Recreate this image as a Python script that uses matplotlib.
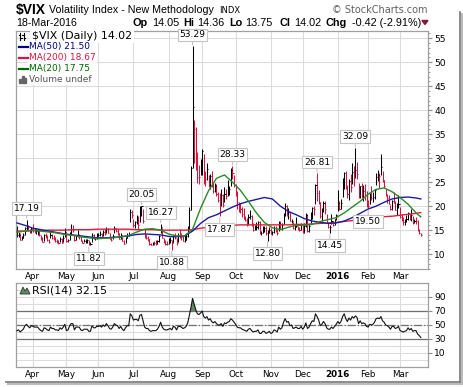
import numpy as np
import pandas as pd
import matplotlib
matplotlib.use("Agg")
import matplotlib.pyplot as plt
from matplotlib.lines import Line2D
from matplotlib.patches import Rectangle, Polygon

W, H = 464, 387

# trading days, 18-Mar-2015 .. 18-Mar-2016
holidays = ["2015-04-03", "2015-05-25", "2015-07-03", "2015-09-07", "2015-11-26",
            "2015-12-25", "2016-01-01", "2016-01-18", "2016-02-15"]
dates = pd.bdate_range("2015-03-18", "2016-03-18", freq="C", holidays=holidays)

closes = [
    13.97, 14.07, 13.02, 13.41, 14.02, 15.44, 15.80, 15.07, 14.51, 15.29,
    15.11, 14.67, 14.74, 14.78, 13.98, 13.09, 12.58, 13.94, 13.67, 12.84, 12.60, 13.89, 13.30, 13.25, 12.71, 12.48, 12.29, 13.12, 12.41, 13.39, 14.55,
    12.70, 12.85, 14.31, 15.15, 15.13, 12.86, 13.85, 13.86, 13.76, 12.74, 12.38, 12.73, 12.85, 12.88, 12.11, 12.13, 14.06, 13.27, 13.31, 13.84,
    13.97, 14.24, 13.66, 14.71, 14.21, 15.29, 14.47, 13.22, 12.85, 13.78, 15.39, 14.81, 14.50, 13.19, 13.96, 12.74, 12.11, 13.26, 14.01, 14.02, 18.85, 18.23,
    16.09, 16.79, 17.01, 16.09, 19.66, 19.97, 16.83, 13.90, 13.37, 13.23, 12.11, 11.95, 12.25, 12.22, 12.12, 12.64, 13.74, 15.60, 13.44, 12.50, 12.13, 12.12,
    12.56, 13.00, 12.51, 13.77, 13.39, 12.23, 13.71, 13.61, 13.49, 12.83, 13.02, 13.79, 15.25, 19.14, 28.03, 40.74, 36.02, 30.32, 26.10, 26.05, 28.43,
    31.40, 26.09, 25.61, 27.80, 24.90, 26.23, 24.37, 23.20, 24.25, 22.54, 21.35, 21.14, 22.28, 20.14, 22.44, 22.13, 23.47, 23.62, 27.63, 26.83, 24.50,
    22.55, 20.94, 19.54, 19.40, 18.40, 17.42, 17.08, 16.17, 17.67, 18.03, 16.05, 15.05, 15.75, 15.75, 16.70, 14.45, 14.46, 15.29, 15.43, 14.33, 14.61, 15.07,
    14.15, 14.54, 15.51, 15.05, 14.33, 16.52, 15.29, 16.06, 18.37, 20.08, 18.16, 18.84, 16.85, 16.99, 15.47, 15.62, 15.93, 15.19, 15.12, 16.13,
    14.67, 15.91, 18.11, 14.81, 15.84, 17.60, 19.61, 19.34, 24.39, 22.73, 20.95, 17.86, 18.94, 20.70, 19.34, 16.60, 15.57, 15.74, 16.91, 16.08, 17.29, 18.21,
    20.70, 19.34, 20.59, 24.99, 27.01, 24.30, 22.47, 25.22, 23.95, 27.02, 26.05, 27.59, 26.69, 22.34, 24.15, 22.50, 23.11, 22.42, 20.20,
    19.98, 21.98, 21.65, 21.84, 23.38, 26.00, 26.54, 26.29, 28.14, 25.40, 24.11, 22.31, 21.64, 20.53, 19.38, 20.98, 20.72, 19.11, 19.81, 20.55,
    17.70, 17.09, 16.70, 16.86, 17.35, 18.67, 17.50, 18.05, 16.50, 16.92, 16.84, 14.99, 14.44, 14.02,
]
highs = [
    15.9, 14.6, 14.3, 13.8, 14.3, 15.7, 17.19, 16.0, 15.3, 15.6,
    16.2, 15.4, 15.4, 15.3, 14.9, 14.0, 13.6, 14.2, 14.5, 13.9, 13.2, 14.6, 14.2, 13.9, 13.5, 13.1, 12.9, 13.5, 13.4, 13.9, 15.4,
    14.3, 13.2, 14.6, 16.3, 16.0, 14.0, 14.0, 15.1, 14.2, 13.8, 13.0, 13.1, 13.1, 13.2, 12.9, 12.5, 14.4, 14.1, 13.6, 14.3,
    14.5, 14.8, 14.3, 15.1, 15.2, 15.6, 15.4, 14.4, 13.6, 14.2, 15.9, 15.5, 15.3, 14.5, 14.3, 13.5, 12.9, 13.5, 14.5, 14.6, 19.5, 19.2,
    17.3, 17.0, 18.2, 18.0, 20.0, 20.05, 19.4, 15.3, 14.0, 13.8, 13.1, 12.4, 12.6, 12.8, 13.0, 13.0, 13.9, 16.27, 15.5, 13.4, 12.9, 12.7,
    13.3, 13.6, 13.0, 14.0, 14.3, 13.3, 14.5, 15.3, 14.4, 13.7, 14.0, 14.3, 15.8, 19.8, 28.38, 53.29, 38.0, 36.5, 31.3, 28.6, 29.8,
    31.9, 30.9, 27.3, 29.0, 26.5, 26.8, 27.3, 25.0, 24.8, 24.7, 23.0, 22.8, 23.6, 22.6, 23.9, 23.5, 25.4, 24.2, 28.0, 28.33, 26.4,
    24.6, 23.1, 20.9, 20.6, 19.9, 19.6, 17.9, 17.6, 18.3, 19.2, 18.1, 16.4, 16.0, 16.6, 16.9, 16.9, 14.9, 15.9, 15.9, 15.8, 15.0, 15.6,
    15.5, 14.9, 15.9, 15.9, 15.2, 16.8, 17.0, 16.4, 18.6, 20.7, 20.2, 19.7, 18.8, 17.4, 16.7, 16.3, 17.8, 15.9, 15.6, 16.4,
    16.0, 16.4, 18.6, 18.4, 16.3, 18.8, 19.9, 20.0, 24.6, 26.81, 23.3, 20.8, 19.6, 21.1, 21.0, 18.3, 16.5, 16.0, 18.3, 16.8, 17.4, 18.4,
    23.4, 21.1, 21.4, 25.9, 27.1, 27.4, 24.5, 25.7, 26.7, 29.0, 28.4, 32.09, 29.3, 24.9, 24.3, 24.8, 24.4, 24.7, 23.2,
    21.3, 22.8, 24.3, 23.0, 23.5, 27.0, 27.6, 26.9, 30.9, 27.3, 25.5, 23.6, 22.5, 22.3, 20.3, 21.3, 22.9, 21.0, 20.6, 22.3,
    19.8, 18.4, 17.7, 17.3, 18.1, 18.8, 18.3, 19.4, 17.9, 17.4, 17.8, 17.1, 15.2, 14.36,
]
lows = [
    13.6, 13.5, 12.9, 12.9, 13.3, 13.9, 15.0, 14.9, 14.3, 14.3,
    14.6, 14.4, 14.2, 14.0, 13.8, 12.9, 12.5, 12.8, 13.3, 12.7, 12.4, 13.3, 13.2, 12.9, 12.6, 12.3, 12.2, 12.5, 12.4, 12.6, 13.5,
    12.6, 12.5, 13.0, 13.9, 14.6, 12.8, 13.0, 13.5, 13.2, 12.7, 12.3, 12.5, 12.3, 12.4, 11.82, 12.0, 12.5, 13.1, 13.0, 13.1,
    13.7, 13.8, 13.5, 13.7, 14.0, 14.3, 14.3, 13.2, 12.8, 13.2, 14.3, 14.6, 14.0, 13.1, 13.2, 12.7, 12.1, 12.4, 13.4, 13.7, 16.6, 17.5,
    15.6, 15.5, 16.2, 15.2, 16.6, 17.9, 16.5, 13.4, 13.2, 12.7, 12.0, 11.8, 11.9, 11.8, 11.9, 12.1, 12.5, 14.5, 13.3, 12.4, 12.0, 11.9,
    12.1, 12.4, 10.88, 12.3, 13.2, 12.0, 12.6, 13.4, 12.9, 12.8, 12.5, 13.0, 13.5, 15.2, 19.2, 28.0, 29.0, 27.6, 24.8, 24.6, 26.5,
    26.5, 24.6, 24.2, 25.4, 23.9, 23.5, 23.9, 22.8, 22.9, 22.1, 20.9, 17.87, 20.0, 19.8, 20.8, 21.5, 22.2, 22.3, 24.1, 25.6, 23.9,
    22.1, 19.5, 18.8, 18.6, 17.7, 17.3, 16.8, 15.9, 16.3, 17.4, 15.9, 14.9, 15.0, 15.1, 15.2, 14.1, 13.9, 14.3, 14.7, 13.9, 12.80, 14.4,
    14.1, 13.9, 14.4, 14.7, 14.0, 14.9, 15.2, 15.1, 16.2, 18.0, 17.9, 17.3, 16.8, 16.4, 15.3, 15.1, 15.6, 15.0, 14.8, 15.1,
    14.5, 14.4, 15.6, 14.6, 14.6, 16.4, 17.3, 18.1, 20.4, 21.0, 20.4, 17.5, 17.0, 18.8, 18.3, 16.4, 15.5, 14.45, 16.2, 15.9, 16.0, 17.1,
    18.9, 19.1, 19.5, 22.0, 23.5, 23.6, 21.6, 21.3, 22.9, 24.7, 24.2, 25.8, 25.6, 21.7, 21.8, 21.7, 21.0, 21.3, 19.9,
    19.50, 20.4, 21.3, 20.9, 21.5, 24.5, 25.2, 23.8, 26.5, 25.0, 23.8, 22.1, 20.6, 20.4, 19.1, 19.2, 20.7, 19.1, 18.2, 19.7,
    17.5, 16.9, 16.0, 16.0, 16.7, 17.2, 17.1, 16.8, 16.3, 16.5, 16.2, 14.8, 14.1, 13.75,
]
rsi = [
    42, 43, 40, 42, 44, 49, 51, 48, 46, 49,
    48, 47, 47, 47, 44, 42, 41, 46, 45, 43, 42, 47, 45, 45, 43, 43, 42, 46, 44, 47, 51,
    42, 43, 49, 52, 52, 43, 47, 47, 47, 43, 42, 44, 44, 44, 41, 41, 49, 46, 46, 48,
    48, 49, 47, 50, 48, 52, 49, 45, 44, 47, 52, 50, 49, 45, 48, 44, 42, 46, 49, 49, 66, 63,
    57, 58, 58, 56, 64, 65, 56, 47, 45, 45, 42, 41, 42, 42, 42, 44, 48, 54, 47, 44, 43, 43,
    44, 45, 43, 48, 47, 43, 48, 48, 47, 45, 46, 48, 53, 64, 75, 88, 80, 72, 66, 65, 67,
    70, 62, 60, 62, 57, 59, 55, 53, 55, 52, 50, 50, 52, 48, 53, 52, 54, 55, 59, 57, 54,
    51, 47, 46, 46, 44, 43, 42, 41, 44, 45, 42, 40, 41, 41, 43, 38, 38, 41, 41, 38, 39, 41,
    38, 39, 43, 42, 40, 47, 44, 46, 54, 59, 54, 55, 49, 50, 45, 46, 47, 45, 45, 48,
    44, 47, 53, 45, 47, 52, 56, 55, 66, 62, 57, 49, 51, 55, 52, 46, 44, 44, 47, 45, 48, 51,
    55, 52, 55, 62, 66, 59, 55, 60, 57, 62, 60, 63, 61, 52, 56, 52, 53, 52, 48,
    47, 51, 50, 51, 54, 59, 60, 59, 62, 56, 54, 50, 49, 47, 44, 48, 48, 45, 46, 48,
    42, 41, 40, 41, 42, 46, 43, 45, 41, 42, 42, 37, 35, 32.15,
]

# moving averages, read every 5th trading day
ma_idx = list(range(0, 251, 5)) + [253]
ma50 = [16.5, 16.0, 15.4, 15.1, 14.8, 14.5, 14.2, 14.0, 13.8, 13.6, 13.4, 13.4, 13.5,
        13.6, 13.8, 14.1, 14.2, 14.1, 14.0, 13.7, 13.6, 13.8, 14.8, 16.4, 17.6, 18.2,
        19.0, 19.8, 20.5, 21.0, 21.4, 21.8, 21.5, 20.0, 18.9, 18.2, 17.4, 16.9, 16.6,
        16.4, 16.5, 16.9, 17.6, 18.5, 19.4, 20.0, 20.8, 21.5, 21.8, 21.9, 21.7, 21.5]
ma200 = [14.8, 14.8, 14.9, 14.9, 15.0, 15.0, 15.0, 15.1, 15.1, 15.1, 15.2, 15.2, 15.2,
         15.2, 15.2, 15.1, 15.1, 15.1, 15.0, 15.0, 15.0, 15.0, 15.1, 15.4, 15.6, 15.8,
         15.9, 16.0, 16.1, 16.1, 16.1, 16.1, 16.1, 16.1, 16.1, 16.2, 16.2, 16.3, 16.4,
         16.5, 16.6, 16.8, 17.0, 17.2, 17.4, 17.6, 17.8, 17.9, 18.1, 18.3, 18.5, 18.67]
ma20 = [14.6, 14.8, 15.0, 14.8, 14.6, 14.4, 14.1, 13.9, 13.6, 13.4, 13.2, 13.3, 13.4,
        13.6, 13.9, 14.6, 15.2, 15.3, 15.0, 14.2, 13.8, 13.8, 15.2, 19.5, 23.2, 25.8,
        26.5, 25.0, 23.3, 21.0, 18.6, 16.6, 15.5, 15.1, 15.6, 16.0, 16.0, 16.2, 16.8,
        17.2, 17.6, 18.6, 19.8, 21.0, 22.5, 23.5, 23.8, 23.0, 21.8, 20.4, 18.6, 17.75]

# days whose high / low carries a value box
peak_days = ["2015-03-26", "2015-07-09", "2015-07-27", "2015-08-24", "2015-09-29",
             "2015-12-14", "2016-01-20"]
trough_days = ["2015-05-21", "2015-08-05", "2015-09-17", "2015-10-29", "2015-12-24",
               "2016-02-01"]

closes = np.array(closes)
highs = np.array(highs)
lows = np.array(lows)
rsi = np.array(rsi, dtype=float)
n = len(dates)
assert len(closes) == n and len(highs) == n and len(lows) == n and len(rsi) == n
x = np.arange(n)


def fx(px):
    return px / W


def fy(py):
    return 1 - py / H


fig = plt.figure(figsize=(W / 100, H / 100), dpi=100)
ax = fig.add_axes([fx(16), fy(269), 412 / W, 238 / H])
ax2 = fig.add_axes([fx(16), fy(367), 412 / W, 84 / H])

grid_c = "#dcdcdc"
spine_c = "#a0a0a0"
red = "#d6143c"

month_idx = [i for i in range(1, n) if dates[i].month != dates[i - 1].month]
month_lab = ["2016" if dates[i].month == 1 else dates[i].strftime("%b") for i in month_idx]

for a in (ax, ax2):
    a.set_xlim(-0.6, 257.5)
    a.set_xticks(month_idx)
    a.set_xticklabels(month_lab)
    a.tick_params(axis="x", length=0, pad=2, labelsize=6.3)
    for t in a.get_xticklabels():
        if t.get_text() == "2016":
            t.set_fontweight("bold")
    a.yaxis.tick_right()
    a.tick_params(axis="y", length=3, pad=1.5, labelsize=6.6, color="#888888")
    a.grid(True, which="major", axis="x", color=grid_c, lw=0.8, zorder=0)
    a.set_axisbelow(True)
    for s in a.spines.values():
        s.set_color(spine_c)
        s.set_linewidth(0.9)

# ---- price panel
ax.set_ylim(6.9, 56.5)
ax.set_yticks(range(10, 56, 5))
ax.set_yticks(np.arange(7, 57, 1), minor=True)
ax.tick_params(axis="y", which="minor", length=1.5, color="#888888")
ax.grid(True, which="major", axis="y", color=grid_c, lw=0.8)

prev = np.r_[closes[0], closes[:-1]]
cols = np.where(closes < prev, red, "black")
ax.vlines(x, lows, highs, colors=cols, lw=0.75, zorder=2)
ax.hlines(closes, x, x + 0.7, colors=cols, lw=0.75, zorder=2)

ax.plot(ma_idx, ma200, color="#e01e3c", lw=1.0, zorder=3)
ax.plot(ma_idx, ma50, color="#1c1ca0", lw=1.0, zorder=3)
ax.plot(ma_idx, ma20, color="#2a8a2a", lw=1.0, zorder=3)

box = dict(boxstyle="square,pad=0.2", fc="white", ec="#c4c4c4", lw=0.8)
day_pos = {d.strftime("%Y-%m-%d"): i for i, d in enumerate(dates)}
for d in peak_days:
    i = day_pos[d]
    ax.annotate(f"{highs[i]:.2f}", xy=(i, highs[i]), xytext=(0, 5), textcoords="offset points",
                ha="center", va="bottom", fontsize=6.6, bbox=box, zorder=5,
                annotation_clip=False,
                arrowprops=dict(arrowstyle="-", color="#c4c4c4", lw=0.8, shrinkA=0, shrinkB=1))
for d in trough_days:
    i = day_pos[d]
    ax.annotate(f"{lows[i]:.2f}", xy=(i, lows[i]), xytext=(0, -6), textcoords="offset points",
                ha="center", va="top", fontsize=6.6, bbox=box, zorder=5,
                annotation_clip=False,
                arrowprops=dict(arrowstyle="-", color="#c4c4c4", lw=0.8, shrinkA=0, shrinkB=1))

# ---- RSI panel
ax2.set_ylim(-10, 110)
ax2.set_yticks([10, 30, 50, 70, 90])
ax2.set_yticks([0, 20, 40, 60, 80, 100], minor=True)
ax2.tick_params(axis="y", which="minor", length=0)
ax2.grid(True, which="both", axis="y", color=grid_c, lw=0.8)
ax2.axhline(70, color="#707070", lw=0.9, zorder=1)
ax2.axhline(30, color="#707070", lw=0.9, zorder=1)
ax2.axhline(50, color="#707070", lw=0.9, ls="-.", zorder=1)
ax2.fill_between(x, rsi, 70, where=rsi >= 70, interpolate=True, color="#5f8a62", lw=0, zorder=2)
ax2.fill_between(x, rsi, 30, where=rsi <= 30, interpolate=True, color="#5f8a62", lw=0, zorder=2)
ax2.plot(x, rsi, color="#111111", lw=0.8, zorder=3)

# ---- header
sans = "Liberation Sans"
fig.text(fx(16), fy(10), "$VIX", fontsize=10, fontweight="bold", family=sans, va="center")
fig.text(fx(49), fy(10), "Volatility Index - New Methodology", fontsize=7.7, family=sans, va="center")
fig.text(fx(219), fy(10.5), "INDX", fontsize=6, va="center")
fig.text(fx(428), fy(10), "\u00a9 StockCharts.com", fontsize=7, color="#606060", ha="right", va="center")
fig.text(fx(16), fy(23), "18-Mar-2016", fontsize=7.7, family=sans, va="center")
ohlc = [("Op", 133, True), ("14.05", 152, False), ("Hi", 183, True), ("14.36", 197, False),
        ("Lo", 229, True), ("13.75", 245, False), ("Cl", 280, True), ("14.02", 294, False),
        ("Chg", 326, True), ("-0.42 (-2.91%)", 352, False)]
for s, px, b in ohlc:
    fig.text(fx(px), fy(23), s, fontsize=7.8, family=sans, va="center",
             fontweight="bold" if b else "normal")
fig.add_artist(Polygon([(fx(422), fy(20.5)), (fx(428), fy(20.5)), (fx(425), fy(24.5))],
                       closed=True, color="#8b1538", transform=fig.transFigure))

# ---- legend rows inside price panel
wbox = dict(boxstyle="square,pad=0.15", fc="white", ec="none")
fig.text(fx(32), fy(36), "$VIX (Daily) 14.02", fontsize=7.9, va="center", bbox=wbox, zorder=6)
for xs in (20, 24):
    fig.add_artist(Line2D([fx(xs), fx(xs)], [fy(33), fy(40)], color="black", lw=0.8,
                          transform=fig.transFigure, zorder=7))
    fig.add_artist(Line2D([fx(xs - 1.5), fx(xs)], [fy(35), fy(35)], color="black", lw=0.8,
                          transform=fig.transFigure, zorder=7))
    fig.add_artist(Line2D([fx(xs), fx(xs + 1.5)], [fy(38), fy(38)], color="black", lw=0.8,
                          transform=fig.transFigure, zorder=7))
legend_rows = [("MA(50) 21.50", "#000080", 47), ("MA(200) 18.67", "#dc143c", 57.5),
               ("MA(20) 17.75", "#006400", 68.5)]
for s, c, py in legend_rows:
    fig.text(fx(29), fy(py), s, fontsize=6.5, color=c, va="center", bbox=wbox, zorder=6)
    fig.add_artist(Line2D([fx(19), fx(28)], [fy(py), fy(py)], color=c, lw=1.6,
                          transform=fig.transFigure, zorder=7))
fig.text(fx(29), fy(79), "Volume undef", fontsize=6.5, color="#555555", va="center", bbox=wbox, zorder=6)
for bx, bh in ((19.5, 4), (22, 7), (24.5, 5.5)):
    fig.add_artist(Rectangle((fx(bx), fy(83)), 2 / W, bh / H, color="#666666",
                             transform=fig.transFigure, zorder=7))

# RSI legend
fig.add_artist(Polygon([(fx(20), fy(294)), (fx(23), fy(287)), (fx(25), fy(291)),
                        (fx(27), fy(288)), (fx(30), fy(294))], closed=True,
                       fc="#5f8a62", ec="#333333", lw=0.6, transform=fig.transFigure, zorder=7))
fig.text(fx(32), fy(290.5), "RSI(14) 32.15", fontsize=7.9, va="center", bbox=wbox, zorder=6)

# drop shadow around the chart
fig.add_artist(Line2D([fx(460), fx(460)], [fy(12), fy(382)], color="#777777", lw=1.2,
                      transform=fig.transFigure))
fig.add_artist(Line2D([fx(6), fx(460)], [fy(382), fy(382)], color="#777777", lw=1.2,
                      transform=fig.transFigure))
fig.add_artist(Line2D([fx(462), fx(462)], [fy(14), fy(384)], color="#bbbbbb", lw=1.5,
                      transform=fig.transFigure))
fig.add_artist(Line2D([fx(8), fx(462)], [fy(384), fy(384)], color="#bbbbbb", lw=1.5,
                      transform=fig.transFigure))

fig.savefig("out.png", dpi=100)
